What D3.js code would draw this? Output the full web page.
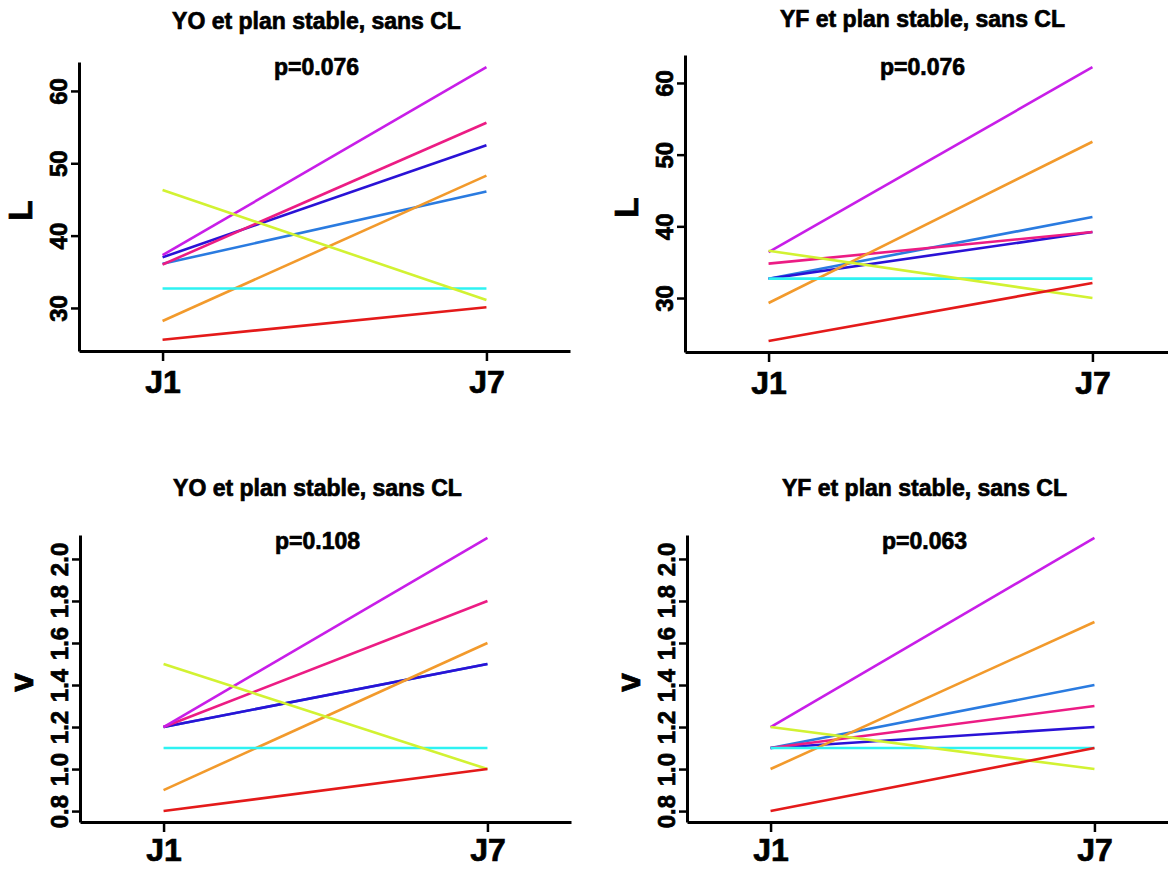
<!DOCTYPE html>
<html>
<head>
<meta charset="utf-8">
<script src="https://cdn.jsdelivr.net/npm/d3@7.9.0/dist/d3.min.js"></script>
<style>
  body { margin: 0; background: #fff; }
  svg text { font-family: "Liberation Sans", Arial, sans-serif; font-weight: bold; fill: #000; stroke: #000; stroke-width: 0.7px; }
</style>
</head>
<body>
<svg id="chart" width="1168" height="870"></svg>
<script>
// x categories
const days = ['J1', 'J7'];

// one line per subject, drawn in this order
const subjects = ['steelblue', 'darkblue', 'pink', 'purple', 'orange', 'cyan', 'yellowgreen', 'red'];
const subjectColors = ['#2a7be0', '#2a12d6', '#ec1c84', '#c81ee8', '#f29a2c', '#2ef2f2', '#d2f232', '#e41a1a'];

const titles = ['YO et plan stable, sans CL', 'YF et plan stable, sans CL', 'YO et plan stable, sans CL', 'YF et plan stable, sans CL'];
const pValues = ['p=0.076', 'p=0.076', 'p=0.108', 'p=0.063'];
const yLabels = ['L', 'L', 'v', 'v'];

const yTicksL = [30, 40, 50, 60];
const yTicksV = [0.8, 1.0, 1.2, 1.4, 1.6, 1.8, 2.0];

// [J1, J7] per subject, same order as subjects
const lYO = [[36.1, 46.1], [37.0, 52.5], [36.0, 55.6], [37.3, 63.3], [28.2, 48.3], [32.7, 32.7], [46.3, 31.1], [25.6, 30.1]];
const lYF = [[32.7, 41.3], [32.7, 39.2], [34.8, 39.2], [36.4, 62.2], [29.3, 51.8], [32.7, 32.7], [36.6, 30.0], [24.0, 32.1]];
const vYO = [[1.2, 1.5], [1.2, 1.5], [1.2, 1.8], [1.2, 2.1], [0.9, 1.6], [1.1, 1.1], [1.5, 1.0], [0.8, 1.0]];
const vYF = [[1.1, 1.4], [1.1, 1.2], [1.1, 1.3], [1.2, 2.1], [1.0, 1.7], [1.1, 1.1], [1.2, 1.0], [0.8, 1.1]];

// layout of the four panels (pixels)
const panels = [
  { values: lYO, ticks: yTicksL, fmt: d3.format('d'),   x0: 79,  top: 62,  bottom: 351, domain: [24.05, 64.0], titleY: 29,  pY: 75, labY: 42 },
  { values: lYF, ticks: yTicksL, fmt: d3.format('d'),   x0: 685, top: 55,  bottom: 352, domain: [22.47, 63.9], titleY: 27,  pY: 75, labY: 42 },
  { values: vYO, ticks: yTicksV, fmt: d3.format('.1f'), x0: 80,  top: 535, bottom: 822, domain: [0.748, 2.114], titleY: 496, pY: 549, labY: 39 },
  { values: vYF, ticks: yTicksV, fmt: d3.format('.1f'), x0: 687, top: 535, bottom: 822, domain: [0.748, 2.114], titleY: 496, pY: 549, labY: 39 }
];
const plotWidth = 491;

const svg = d3.select('#chart');

panels.forEach((p, i) => {
  const g = svg.append('g');

  const x = d3.scalePoint().domain(days).range([p.x0, p.x0 + plotWidth]).padding(0.258);
  const y = d3.scaleLinear().domain(p.domain).range([p.bottom, p.top]);

  // lines
  const line = d3.line().x((d, k) => x(days[k])).y(d => y(d));
  p.values.forEach((vals, k) => {
    g.append('path')
      .attr('d', line(vals))
      .attr('fill', 'none')
      .attr('stroke', subjectColors[k])
      .attr('stroke-width', 2.6);
  });

  // y axis
  const yAxis = g.append('g')
    .attr('transform', `translate(${p.x0},0)`)
    .call(d3.axisLeft(y).tickValues(p.ticks).tickFormat(p.fmt).tickSize(8).tickSizeOuter(0));
  yAxis.select('.domain').attr('stroke', '#000').attr('stroke-width', 3);
  yAxis.selectAll('.tick line').attr('stroke', '#000').attr('stroke-width', 2.5);
  yAxis.selectAll('.tick text')
    .attr('x', null).attr('dy', null)
    .attr('text-anchor', 'middle')
    .attr('transform', 'translate(-12,0) rotate(-90)')
    .style('font-size', '24px');

  // x axis
  const xAxis = g.append('g')
    .attr('transform', `translate(0,${p.bottom})`)
    .call(d3.axisBottom(x).tickSize(10).tickSizeOuter(0));
  xAxis.select('.domain').attr('stroke', '#000').attr('stroke-width', 3);
  xAxis.selectAll('.tick line').attr('stroke', '#000').attr('stroke-width', 2.5);
  xAxis.selectAll('.tick text')
    .attr('y', p.labY).attr('dy', null)
    .style('font-size', '32px');

  // axis title
  g.append('text')
    .attr('transform', `translate(${p.x0 - 47},${(p.top + p.bottom) / 2 + 4}) rotate(-90)`)
    .attr('text-anchor', 'middle')
    .style('font-size', '34px')
    .text(yLabels[i]);

  // title and p value
  const cx = p.x0 + plotWidth / 2 - 8;
  g.append('text')
    .attr('x', cx).attr('y', p.titleY)
    .attr('text-anchor', 'middle')
    .style('font-size', '23px')
    .text(titles[i]);
  g.append('text')
    .attr('x', cx).attr('y', p.pY)
    .attr('text-anchor', 'middle')
    .style('font-size', '23px')
    .text(pValues[i]);
});
</script>
</body>
</html>
